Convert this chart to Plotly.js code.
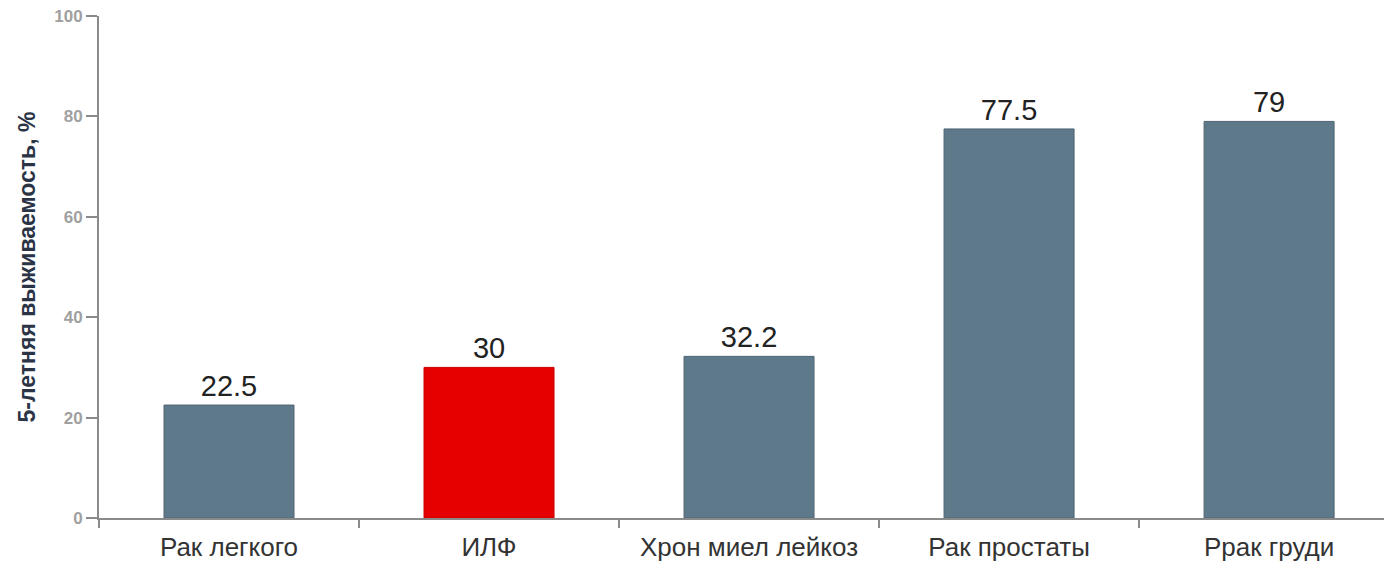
<!DOCTYPE html>
<html><head><meta charset="utf-8">
<script src="https://cdn.plot.ly/plotly-3.0.1.min.js"></script>
<style>html,body{margin:0;padding:0;background:#fff;}#c{width:1384px;height:562px;}</style>
</head><body><div id="c"></div>
<script>
const categories = ["Рак легкого", "ИЛФ", "Хрон миел лейкоз", "Рак простаты", "Ррак груди"];
const values = [22.5, 30, 32.2, 77.5, 79];
const labels = ["22.5", "30", "32.2", "77.5", "79"];
const barColors = ["#5e7989", "#e60000", "#5e7989", "#5e7989", "#5e7989"];
const lineColors = ["#4f6573", "#c80000", "#4f6573", "#4f6573", "#4f6573"];
const yTicks = [0, 20, 40, 60, 80, 100];

const trace = {
  type: "bar",
  x: categories,
  y: values,
  text: labels,
  textposition: "outside",
  cliponaxis: false,
  textfont: {family: "Liberation Sans, Arial, sans-serif", size: 29, color: "#222"},
  marker: {color: barColors, line: {color: lineColors, width: 1}},
  hoverinfo: "none"
};

const layout = {
  width: 1384, height: 562,
  margin: {l: 99, r: 0, t: 16, b: 44, pad: 0},
  paper_bgcolor: "#fff", plot_bgcolor: "#fff",
  bargap: 0.5,
  showlegend: false,
  font: {family: "Liberation Sans, Arial, sans-serif"},
  xaxis: {
    type: "category",
    range: [-0.5, 4.442],
    showline: true, linecolor: "#8a8a8a", linewidth: 2,
    ticks: "outside", tickson: "boundaries", ticklen: 8, tickcolor: "#8a8a8a", tickwidth: 2,
    tickfont: {size: 26, color: "#333"},
    ticklabelstandoff: 5,
    showgrid: false, zeroline: false
  },
  yaxis: {
    range: [0, 100],
    tickvals: yTicks,
    showline: true, linecolor: "#8a8a8a", linewidth: 2,
    ticks: "outside", ticklen: 11, tickcolor: "#8a8a8a", tickwidth: 2,
    ticklabelstandoff: 0,
    tickfont: {size: 17, color: "#a0a0a0", family: "Liberation Sans, Arial, sans-serif", weight: "bold"},
    showgrid: false, zeroline: false,
    title: {text: "5-летняя выживаемость, %", standoff: 12,
            font: {size: 23, color: "#2a3445", family: "Liberation Sans, Arial, sans-serif", weight: "bold"}}
  }
};

Plotly.newPlot("c", [trace], layout, {displayModeBar: false, staticPlot: true});
</script></body></html>
